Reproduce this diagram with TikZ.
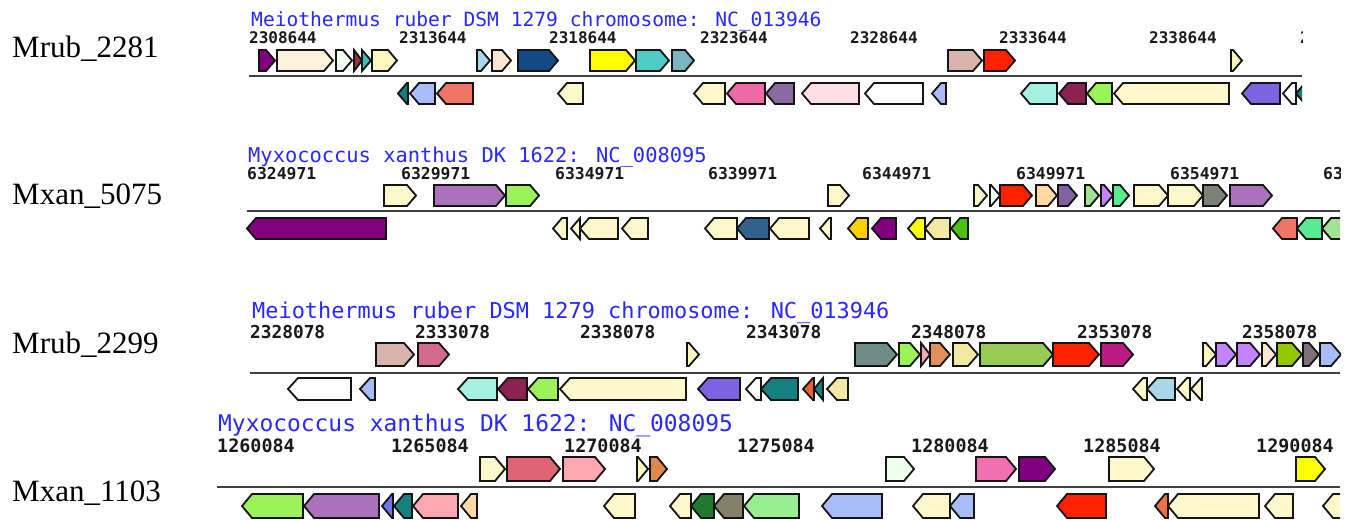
\documentclass[tikz,border=0pt]{standalone}
\usepackage{fontspec}
\setmainfont{Liberation Serif}
\newfontfamily\monof{DejaVu Sans Mono}
\newfontfamily\monob{DejaVu Sans Mono Bold}
\definecolor{ttlblue}{RGB}{40,40,255}
\definecolor{purp}{HTML}{800080}
\definecolor{oldl}{HTML}{FFF2DA}
\definecolor{honey}{HTML}{EEFFEE}
\definecolor{brn}{HTML}{8B3A3A}
\definecolor{lsea}{HTML}{3CBFBF}
\definecolor{lyel}{HTML}{FFF7C0}
\definecolor{lblue}{HTML}{A8D8E8}
\definecolor{peach}{HTML}{FFE6D4}
\definecolor{navy}{HTML}{124A85}
\definecolor{yel}{HTML}{FFFF00}
\definecolor{turq}{HTML}{4CCCC4}
\definecolor{cadet}{HTML}{7AB5C2}
\definecolor{rosy}{HTML}{D8B4AC}
\definecolor{gred}{HTML}{FF2200}
\definecolor{dteal}{HTML}{137E7E}
\definecolor{corn}{HTML}{A8BCF8}
\definecolor{salm}{HTML}{F07468}
\definecolor{cream}{HTML}{FFF8CC}
\definecolor{hpink}{HTML}{EE6AA7}
\definecolor{mpurp}{HTML}{8A6AA0}
\definecolor{mrose}{HTML}{FFDFE3}
\definecolor{aqua}{HTML}{A6F2E2}
\definecolor{maroon}{HTML}{8B2252}
\definecolor{lgreen}{HTML}{9CF25A}
\definecolor{slate}{HTML}{7E62E2}
\definecolor{mauve}{HTML}{AA72BA}
\definecolor{navajo}{HTML}{FFDAA4}
\definecolor{dpurp}{HTML}{7F62A2}
\definecolor{pgreen}{HTML}{A2E294}
\definecolor{lpurp}{HTML}{C383FF}
\definecolor{sgreen}{HTML}{58EC90}
\definecolor{ggrey}{HTML}{7B8179}
\definecolor{steel}{HTML}{31628D}
\definecolor{gold}{HTML}{FFD000}
\definecolor{khaki}{HTML}{F2EAA4}
\definecolor{ggreen}{HTML}{4DC014}
\definecolor{pvred}{HTML}{D4688E}
\definecolor{slgreen}{HTML}{708C8A}
\definecolor{gpink}{HTML}{F7A8BA}
\definecolor{sandy}{HTML}{E28F5E}
\definecolor{ygreen}{HTML}{96CC55}
\definecolor{mvred}{HTML}{BB1A80}
\definecolor{ygreenb}{HTML}{92C800}
\definecolor{gmauve}{HTML}{807078}
\definecolor{orred}{HTML}{F06030}
\definecolor{gteal}{HTML}{168080}
\definecolor{indred}{HTML}{E06574}
\definecolor{lpink}{HTML}{FFA8B4}
\definecolor{sandyb}{HTML}{E0884E}
\definecolor{hpinkb}{HTML}{F270B0}
\definecolor{slateb}{HTML}{7070F0}
\definecolor{fgreen}{HTML}{1F7A30}
\definecolor{golive}{HTML}{858068}
\definecolor{pgreenb}{HTML}{9AEE92}
\definecolor{gorange}{HTML}{F07040}
\newcommand\fgene[3]{%
  \pgfmathsetmacro\gx{max(#1,#2-\hl)}%
  \filldraw[genebox, fill=#3] (#1,\yT) -- (\gx,\yT) -- (#2,\yM) -- (\gx,\yB) -- (#1,\yB) -- cycle;}
\newcommand\rgene[3]{%
  \pgfmathsetmacro\gx{min(#2,#1+\hl)}%
  \filldraw[genebox, fill=#3] (#2,\yT) -- (\gx,\yT) -- (#1,\yM) -- (\gx,\yB) -- (#2,\yB) -- cycle;}
\newcommand\strand[2]{\def\yT{#1}\def\yB{#2}\pgfmathsetmacro\yM{(#1+#2)/2}}
\newcommand\tickl[2]{\node[ticklab] at (#1,\yL) {#2};}
\begin{document}
\begin{tikzpicture}[x=1pt,y=-1pt,
  genebox/.style={draw=black!92, line width=1.8pt, line join=miter},
  axisline/.style={draw=black!75, line width=2pt},
  ticklab/.style={anchor=base west, inner sep=0pt, text=black!90},
  ttl/.style={anchor=base west, inner sep=0pt, text=ttlblue},
  sidelab/.style={anchor=base west, inner sep=0pt, font=\fontsize{31}{33}\selectfont}]
\useasboundingbox (0,0) rectangle (1351,519);
\fill[white] (0,0) rectangle (1351,519);

% side labels
\node[sidelab] (l1) at (12,58) {Mrub\_2281};
\node[sidelab] (l2) at (12,204) {Mxan\_5075};
\node[sidelab] (l3) at (12,353) {Mrub\_2299};
\node[sidelab] (l4) at (12,501) {Mxan\_1103};

% ---------- track 1 ----------
\node[ttl, font=\monof\fontsize{19.6}{21}\selectfont] (t1) at (251,27) {Meiothermus ruber DSM 1279 chromosome: NC\_013946};
\draw[axisline] (249,76) -- (1302,76);
\begin{scope}
\clip (240,28) rectangle (1302,108);
\def\yL{44}
\begin{scope}[every node/.append style={font=\monob\fontsize{16}{17}\selectfont}]
\tickl{249}{2308644}\tickl{399}{2313644}\tickl{549}{2318644}\tickl{700}{2323644}
\tickl{850}{2328644}\tickl{999}{2333644}\tickl{1149}{2338644}\tickl{1300}{2343644}
\end{scope}
\def\hl{9}
\strand{50}{71}
\fgene{259}{275}{purp}\fgene{277}{333}{oldl}\fgene{336}{352}{honey}
\fgene{354}{362}{brn}\fgene{362}{371}{lsea}\fgene{372}{397}{lyel}
\fgene{477}{490}{lblue}\fgene{492}{511}{peach}\fgene{518}{558}{navy}
\fgene{590}{635}{yel}\fgene{636}{669}{turq}\fgene{672}{694}{cadet}
\fgene{948}{982}{rosy}\fgene{984}{1015}{gred}\fgene{1231}{1242}{lyel}
\strand{83}{104}
\rgene{398}{408}{dteal}\rgene{410}{435}{corn}\rgene{437}{473}{salm}
\rgene{558}{583}{cream}\rgene{694}{725}{cream}\rgene{727}{765}{hpink}
\rgene{766}{794}{mpurp}\rgene{802}{859}{mrose}\rgene{865}{923}{white}
\rgene{932}{946}{corn}\rgene{1021}{1057}{aqua}\rgene{1059}{1086}{maroon}
\rgene{1087}{1112}{lgreen}\rgene{1114}{1229}{cream}\rgene{1242}{1280}{slate}
\rgene{1283}{1296}{white}\rgene{1296}{1320}{dteal}
\end{scope}

% ---------- track 2 ----------
\node[ttl, font=\monof\fontsize{20.4}{22}\selectfont] (t2) at (248,162) {Myxococcus xanthus DK 1622: NC\_008095};
\draw[axisline] (247,211) -- (1340,211);
\begin{scope}
\clip (240,164) rectangle (1340,243);
\def\yL{179}
\begin{scope}[every node/.append style={font=\monob\fontsize{16.4}{17}\selectfont}]
\tickl{247}{6324971}\tickl{401}{6329971}\tickl{555}{6334971}\tickl{708}{6339971}
\tickl{862}{6344971}\tickl{1016}{6349971}\tickl{1170}{6354971}\tickl{1323}{6359971}
\end{scope}
\def\hl{9}
\strand{185}{206}
\fgene{384}{416}{cream}\fgene{434}{505}{mauve}\fgene{506}{539}{lgreen}
\fgene{828}{849}{cream}\fgene{974}{987}{cream}\fgene{990}{1000}{honey}
\fgene{1000}{1032}{gred}\fgene{1036}{1057}{navajo}\fgene{1058}{1077}{dpurp}
\fgene{1085}{1099}{pgreen}\fgene{1101}{1113}{lpurp}\fgene{1113}{1129}{sgreen}
\fgene{1134}{1168}{cream}\fgene{1168}{1203}{cream}\fgene{1203}{1227}{ggrey}
\fgene{1230}{1272}{mauve}
\strand{218}{239}
\rgene{247}{386}{purp}\rgene{553}{567}{cream}\rgene{571}{580}{cream}
\rgene{580}{618}{cream}\rgene{622}{648}{cream}\rgene{705}{737}{cream}
\rgene{737}{769}{steel}\rgene{770}{809}{cream}\rgene{820}{831}{cream}
\rgene{848}{868}{gold}\rgene{872}{896}{purp}\rgene{908}{925}{yel}
\rgene{925}{950}{khaki}\rgene{951}{968}{ggreen}\rgene{1273}{1297}{salm}
\rgene{1297}{1322}{sgreen}\rgene{1322}{1352}{pgreen}
\end{scope}

% ---------- track 3 ----------
\node[ttl, font=\monof\fontsize{21.9}{23}\selectfont] (t3) at (252,318) {Meiothermus ruber DSM 1279 chromosome: NC\_013946};
\draw[axisline] (250,373) -- (1340,373);
\begin{scope}
\clip (240,320) rectangle (1341,403);
\def\yL{338}
\begin{scope}[every node/.append style={font=\monob\fontsize{17.8}{19}\selectfont}]
\tickl{250}{2328078}\tickl{415}{2333078}\tickl{580}{2338078}\tickl{746}{2343078}
\tickl{911}{2348078}\tickl{1077}{2353078}\tickl{1242}{2358078}
\end{scope}
\def\hl{10}
\strand{343}{366}
\fgene{376}{414}{rosy}\fgene{418}{449}{pvred}\fgene{687}{699}{lyel}
\fgene{855}{897}{slgreen}\fgene{899}{920}{lgreen}\fgene{921}{930}{gpink}
\fgene{930}{950}{sandy}\fgene{953}{978}{khaki}\fgene{980}{1053}{ygreen}
\fgene{1053}{1099}{gred}\fgene{1101}{1133}{mvred}\fgene{1203}{1216}{lyel}
\fgene{1216}{1236}{lpurp}\fgene{1237}{1260}{lpurp}\fgene{1262}{1276}{peach}
\fgene{1277}{1302}{ygreenb}\fgene{1303}{1319}{gmauve}\fgene{1320}{1341}{corn}
\strand{378}{400}
\rgene{288}{351}{white}\rgene{360}{375}{corn}\rgene{458}{497}{aqua}
\rgene{498}{527}{maroon}\rgene{528}{558}{lgreen}\rgene{560}{686}{cream}
\rgene{698}{740}{slate}\rgene{746}{761}{white}\rgene{761}{798}{gteal}
\rgene{803}{814}{orred}\rgene{814}{823}{gteal}\rgene{827}{848}{khaki}
\rgene{1133}{1147}{cream}\rgene{1147}{1175}{lblue}\rgene{1177}{1190}{cream}
\rgene{1191}{1202}{cream}
\end{scope}

% ---------- track 4 ----------
\node[ttl, font=\monof\fontsize{22.9}{24}\selectfont] (t4) at (218,431) {Myxococcus xanthus DK 1622: NC\_008095};
\draw[axisline] (217,487) -- (1340,487);
\begin{scope}
\clip (205,434) rectangle (1340,519);
\def\yL{452}
\begin{scope}[every node/.append style={font=\monob\fontsize{18.4}{19}\selectfont}]
\tickl{217}{1260084}\tickl{391}{1265084}\tickl{564}{1270084}\tickl{737}{1275084}
\tickl{911}{1280084}\tickl{1083}{1285084}\tickl{1256}{1290084}
\end{scope}
\def\hl{10}
\strand{457}{481}
\fgene{480}{505}{cream}\fgene{507}{560}{indred}\fgene{563}{605}{lpink}
\fgene{637}{648}{lyel}\fgene{650}{667}{sandyb}\fgene{886}{914}{honey}
\fgene{976}{1016}{hpinkb}\fgene{1019}{1055}{purp}\fgene{1109}{1154}{cream}
\fgene{1296}{1325}{yel}
\strand{494}{518}
\rgene{242}{303}{lgreen}\rgene{304}{379}{mauve}\rgene{382}{393}{slateb}
\rgene{394}{412}{gteal}\rgene{413}{458}{lpink}\rgene{461}{477}{navajo}
\rgene{604}{635}{cream}\rgene{670}{691}{cream}\rgene{691}{714}{fgreen}
\rgene{714}{743}{golive}\rgene{744}{799}{pgreenb}\rgene{822}{882}{corn}
\rgene{913}{950}{cream}\rgene{950}{974}{corn}\rgene{1057}{1106}{gred}
\rgene{1155}{1168}{gorange}\rgene{1168}{1259}{cream}\rgene{1265}{1293}{cream}
\rgene{1323}{1360}{cream}
\end{scope}
\end{tikzpicture}
\end{document}
